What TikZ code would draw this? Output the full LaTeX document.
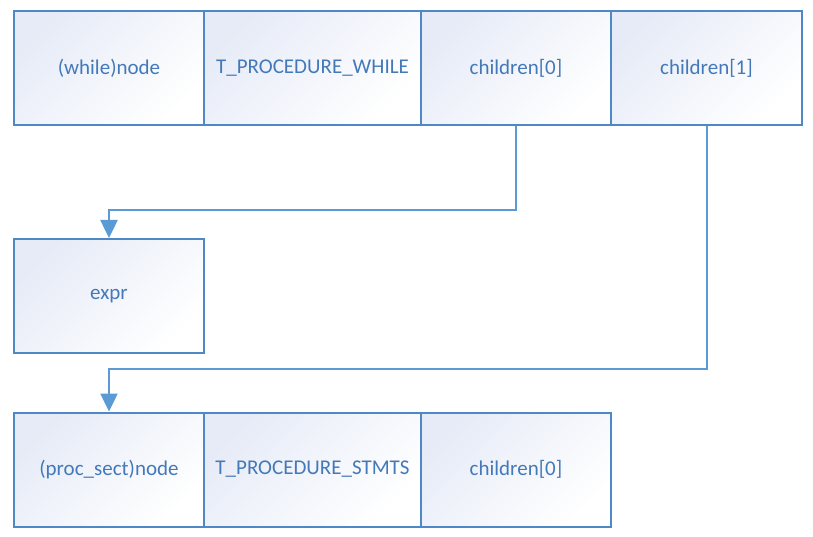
\documentclass[tikz,border=0pt]{standalone}
\usepackage{fontspec}
\setmainfont{Carlito}
\usetikzlibrary{arrows.meta}
\definecolor{boxline}{HTML}{4F88C6}
\definecolor{conn}{HTML}{5B9BD5}
\definecolor{txt}{HTML}{4479B9}
\definecolor{boxtop}{HTML}{E6EBF7}
\tikzset{
  cell/.style={draw=boxline, line width=2pt, top color=boxtop, bottom color=white, shading angle=45,
    minimum height=114pt, inner sep=0pt, text=txt, font=\fontsize{21}{25}\selectfont},
  link/.style={draw=conn, line width=2.5pt, -{Triangle[length=18pt,width=17pt]}}
}
\begin{document}
\begin{tikzpicture}[x=1pt,y=-1pt]
\useasboundingbox (0,0) rectangle (813,537);
\node[cell, minimum width=190pt] (w1) at (109,68) {(while)node};
\node[cell, minimum width=217pt] (w2) at (312.5,68) {T\_PROCEDURE\_WHILE};
\node[cell, minimum width=190pt] (w3) at (516,68) {children[0]};
\node[cell, minimum width=191pt] (w4) at (706.5,68) {children[1]};
\node[cell, minimum width=190pt] (e1) at (109,296) {expr};
\node[cell, minimum width=190pt] (p1) at (109,469.5) {(proc\_sect)node};
\node[cell, minimum width=217pt] (p2) at (312.5,469.5) {T\_PROCEDURE\_STMTS};
\node[cell, minimum width=190pt] (p3) at (516,469.5) {children[0]};
\coordinate (c1) at (516,210);
\coordinate (c2) at (109,210);
\coordinate (d1) at (707,369);
\coordinate (d2) at (109,369);
\draw[link] (w3.south) -- (c1) -- (c2) -- (e1.north);
\draw[link] (w4.south -| d1) -- (d1) -- (d2) -- (p1.north);
\end{tikzpicture}
\end{document}
